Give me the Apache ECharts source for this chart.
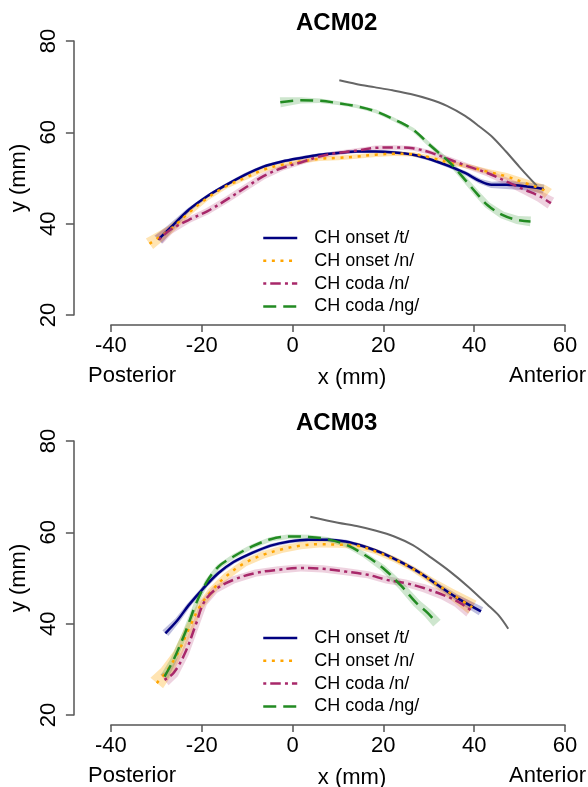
<!DOCTYPE html>
<html><head><meta charset="utf-8">
<script src="https://cdn.jsdelivr.net/npm/echarts@6/dist/echarts.min.js"></script>
<style>html,body{margin:0;padding:0;background:#fff}#c{width:588px;height:787px}</style>
</head><body><div id="c"></div>
<script>
const panelTitles = ['ACM02', 'ACM03'];
const seriesNames = ['CH onset /t/', 'CH onset /n/', 'CH coda /n/', 'CH coda /ng/'];
const xTicks = [-40, -20, 0, 20, 40, 60];
const yTicks = [20, 40, 60, 80];

// ---- ACM02 ----
const acm02Palate = [[10.3,71.4],[14,70.6],[18,69.9],[22,69.2],[26,68.4],[30,67.3],[34,65.8],[38,63.6],[41,61.4],[44,59],[47,55.8],[50,52.4],[52,50.2],[53.8,48.3]];
const acm02OnsetT = [[-29.6,36.5],[-27,39],[-22.9,43],[-18.8,46],[-14.6,48.5],[-10.5,50.7],[-6.4,52.5],[-2.3,53.6],[1.8,54.4],[5.9,55.1],[10,55.5],[14.1,55.8],[18.3,55.8],[22.4,55.6],[26.5,55.1],[30.6,54],[34.7,52.5],[38,51.1],[41.3,49.3],[43.8,48.5],[47,48.5],[51.2,48.2],[55.3,47.6]];
const acm02OnsetTSe = [1.2,0.8,0.45,0.35,0.35,0.35,0.35,0.35,0.35,0.35,0.35,0.35,0.35,0.35,0.35,0.35,0.4,0.45,0.55,0.7,0.9,0.9,1.0];
const acm02OnsetN = [[-31.5,35.6],[-27,38.7],[-22.9,42.3],[-18.8,45.6],[-14.6,48.2],[-10.5,50],[-6.4,51.8],[-2.3,52.9],[1.8,53.6],[5.9,54.2],[10,54.4],[14.1,54.7],[18.3,55.1],[22.4,55.3],[26.5,55.2],[30.6,54.4],[34.7,53.3],[38.8,52.5],[42.9,51.4],[47,50.4],[51.2,48.9],[55.3,47.4],[56.3,46.6]];
const acm02OnsetNSe = [1.4,0.9,0.6,0.5,0.5,0.5,0.5,0.5,0.5,0.5,0.5,0.5,0.5,0.5,0.5,0.5,0.5,0.5,0.6,0.7,0.9,1.1,1.3];
const acm02CodaN = [[-29.4,36.5],[-27,38.6],[-22.9,40.8],[-18.8,42.7],[-14.6,45.2],[-10.5,47.8],[-6.4,50.4],[-2.3,52.2],[1.8,53.4],[5.9,54.7],[10,55.5],[14.1,56],[18.3,56.6],[22.4,56.7],[26.5,56.5],[30.6,55.5],[34.7,54],[38.8,52.5],[42.9,51.1],[47,49.3],[51.2,47.4],[54.4,46],[56.9,44.5]];
const acm02CodaNSe = [1.2,0.9,0.7,0.7,0.7,0.7,0.7,0.6,0.5,0.5,0.5,0.5,0.5,0.5,0.5,0.5,0.6,0.6,0.7,0.8,1.0,1.2,1.4];
const acm02CodaNg = [[-2.7,66.6],[1.8,67],[6,66.9],[10,66.4],[14.1,65.7],[18.3,64.6],[22.4,62.8],[26.5,60.6],[30.6,56.9],[34.7,53.3],[38,49.6],[40.5,46.7],[42.9,44.1],[46.2,41.9],[49.5,40.8],[52.4,40.5]];
const acm02CodaNgSe = [1.1,0.7,0.5,0.4,0.4,0.4,0.4,0.4,0.45,0.5,0.6,0.65,0.7,0.8,0.9,1.1];

// ---- ACM03 ----
const acm03Palate = [[3.9,63.4],[10,62.1],[14.1,61.4],[18.2,60.4],[22.4,59.1],[26.5,57.2],[30.6,54.4],[34.7,51.4],[38.8,48],[42.9,44.2],[45.4,41.8],[47.5,38.9]];
const acm03OnsetT = [[-28,37.9],[-25.3,40.8],[-22.9,44],[-19.6,47.8],[-16.3,51.1],[-13,53.5],[-8.9,55.5],[-4.8,57.1],[-0.7,58],[3.5,58.4],[7.6,58.4],[11.7,58],[15.8,56.9],[19.9,55.4],[24,53.4],[28.1,51.1],[32.2,48.3],[36.3,45.6],[41.5,42.7]];
const acm03OnsetTSe = [0.9,0.6,0.45,0.4,0.4,0.4,0.4,0.4,0.4,0.4,0.4,0.4,0.4,0.4,0.4,0.4,0.5,0.7,1.0];
const acm03OnsetN = [[-29.9,27],[-27.8,29.5],[-25.3,33.5],[-22.9,38.7],[-20.4,43.8],[-17.9,47.1],[-14.6,50.4],[-10.5,53.3],[-6.4,55.1],[-2.3,56.3],[1.8,57.1],[5.9,57.4],[10,57.3],[14.1,57.1],[18.3,55.8],[22.4,54.1],[26.5,52],[30.6,49.4],[34.7,46.7],[39.6,43.6]];
const acm03OnsetNSe = [1.8,1.4,1.0,0.9,0.8,0.8,0.8,0.8,0.8,0.8,0.8,0.7,0.7,0.7,0.6,0.6,0.6,0.7,1.1,1.7];
const acm03CodaN = [[-28.2,27.7],[-26.2,29.2],[-23.7,33.5],[-21.2,40.1],[-19.6,44.5],[-17.1,47.4],[-13,49.6],[-8.1,51.1],[-3.1,51.8],[1.8,52.2],[6.7,52],[11.7,51.4],[16.6,50.7],[20.7,49.6],[24.8,48.9],[28.9,47.8],[33.1,46.3],[36.3,44.9],[39.2,43]];
const acm03CodaNSe = [1.5,1.2,0.9,0.8,0.8,0.8,0.8,0.8,0.8,0.8,0.8,0.8,0.8,0.8,0.8,0.9,1.0,1.3,1.7];
const acm03CodaNg = [[-28.2,28.4],[-26.2,32.1],[-23.7,37.9],[-21.2,44.5],[-18.8,49.3],[-16.3,52.5],[-13,54.7],[-8.9,56.9],[-4.8,58.5],[-0.7,59.1],[3.5,59],[7.6,58.5],[11.7,57.3],[15.8,55.1],[19.9,52.2],[24,48.2],[27.3,44.5],[29.8,42.3],[31.8,40.1]];
const acm03CodaNgSe = [0.9,0.7,0.6,0.5,0.5,0.5,0.5,0.5,0.5,0.5,0.5,0.5,0.5,0.6,0.7,0.8,0.9,1.0,1.1];

const panels = [
  { palate: acm02Palate, curves: [acm02OnsetT, acm02OnsetN, acm02CodaN, acm02CodaNg], se: [acm02OnsetTSe, acm02OnsetNSe, acm02CodaNSe, acm02CodaNgSe] },
  { palate: acm03Palate, curves: [acm03OnsetT, acm03OnsetN, acm03CodaN, acm03CodaNg], se: [acm03OnsetTSe, acm03OnsetNSe, acm03CodaNSe, acm03CodaNgSe] }
];

const FONT = 'Liberation Sans, Arial, Helvetica, sans-serif';
const lineColors = ['#000080', '#FFA500', '#A8286A', '#228B22'];
const bandColors = ['rgba(0,0,128,0.25)', 'rgba(255,165,0,0.3)', 'rgba(176,48,110,0.22)', 'rgba(34,139,34,0.22)'];
const dashTypes = ['solid', [3, 5.6], [3, 4, 10.5, 4.2], [13, 7]];
const axisColor = '#555555';
const panelTop = [41, 441];

function bandSeries(pts, se, color, gi) {
  return {
    type: 'custom', xAxisIndex: gi, yAxisIndex: gi, silent: true, z: 1,
    data: [pts[0]],
    renderItem: function (params, api) {
      const px = pts.map(p => api.coord(p));
      const s = api.size([1, 1]);
      const k = (Math.abs(s[0]) + Math.abs(s[1])) / 2;
      const up = [], lo = [];
      for (let i = 0; i < px.length; i++) {
        const a = px[Math.max(0, i - 1)], b = px[Math.min(px.length - 1, i + 1)];
        const tx = b[0] - a[0], ty = b[1] - a[1];
        const len = Math.hypot(tx, ty) || 1;
        const nx = -ty / len, ny = tx / len;
        const h = se[i] * k;
        up.push([px[i][0] + nx * h, px[i][1] + ny * h]);
        lo.push([px[i][0] - nx * h, px[i][1] - ny * h]);
      }
      return { type: 'polygon', shape: { points: up.concat(lo.reverse()) }, style: { fill: color } };
    }
  };
}

const grids = [], xAxes = [], yAxes = [], series = [], titles = [], legends = [], graphics = [];
panels.forEach((p, gi) => {
  const top = panelTop[gi];
  grids.push({ left: 109, top: top, width: 456, height: 274 });
  xAxes.push({
    type: 'value', gridIndex: gi, min: -40, max: 60, interval: 20, offset: 10,
    axisLine: { show: true, onZero: false, lineStyle: { color: axisColor, width: 1.5 } },
    axisTick: { show: true, length: 7, customValues: xTicks, lineStyle: { color: axisColor, width: 1.5 } },
    axisLabel: { customValues: xTicks, fontSize: 22, color: '#000', margin: 10, fontFamily: FONT, showMinLabel: true, showMaxLabel: true },
    splitLine: { show: false }
  });
  yAxes.push({
    type: 'value', gridIndex: gi, min: 20, max: 80, interval: 20, offset: 37,
    name: 'y (mm)', nameLocation: 'middle', nameGap: 43, nameRotate: 90,
    nameTextStyle: { fontSize: 22, color: '#000', fontFamily: FONT },
    axisLine: { show: true, onZero: false, lineStyle: { color: axisColor, width: 1.5 } },
    axisTick: { show: true, length: 8, customValues: yTicks, lineStyle: { color: axisColor, width: 1.5 } },
    axisLabel: { customValues: yTicks, rotate: 90, fontSize: 22, color: '#000', margin: 14, fontFamily: FONT, showMinLabel: true, showMaxLabel: true },
    splitLine: { show: false }
  });
  titles.push({ text: panelTitles[gi], left: 296, top: top - 30, padding: 0,
    textStyle: { fontSize: 24, fontWeight: 'bold', color: '#000', fontFamily: FONT } });
  p.curves.forEach((c, j) => series.push(bandSeries(c, p.se[j], bandColors[j], gi)));
  series.push({ name: 'palate', type: 'line', xAxisIndex: gi, yAxisIndex: gi, data: p.palate,
    showSymbol: false, symbol: 'none', smooth: 0.3, z: 3, silent: true,
    lineStyle: { color: '#666666', width: 2 } });
  p.curves.forEach((c, j) => series.push({
    name: seriesNames[j], type: 'line', xAxisIndex: gi, yAxisIndex: gi, data: c,
    showSymbol: false, symbol: 'none', smooth: 0.35, z: 4, silent: true,
    itemStyle: { color: lineColors[j] },
    lineStyle: { color: lineColors[j], width: 2.5, type: dashTypes[j] }
  }));
  legends.push({
    orient: 'vertical', left: 262, top: top + 188, data: seriesNames,
    itemWidth: 34, itemHeight: 14, itemGap: 4.8, padding: 0, selectedMode: false,
    itemStyle: { opacity: 0 },
    lineStyle: { width: 2.5, type: 'inherit', opacity: 1 },
    textStyle: { fontSize: 18, color: '#000', fontFamily: FONT, padding: [0, 0, 0, 12] }
  });
  graphics.push(
    { type: 'text', left: 88, top: top + 324, style: { text: 'Posterior', font: '22px ' + FONT, fill: '#000' } },
    { type: 'text', x: 352, y: top + 337, style: { text: 'x (mm)', font: '22px ' + FONT, fill: '#000', textAlign: 'center', textVerticalAlign: 'middle' } },
    { type: 'text', x: 586, y: top + 335, style: { text: 'Anterior', font: '22px ' + FONT, fill: '#000', textAlign: 'right', textVerticalAlign: 'middle' } }
  );
});

const chart = echarts.init(document.getElementById('c'), null, { renderer: 'canvas' });
chart.setOption({
  animation: false,
  backgroundColor: '#fff',
  title: titles,
  legend: legends,
  grid: grids,
  xAxis: xAxes,
  yAxis: yAxes,
  series: series,
  graphic: graphics
});
</script></body></html>
